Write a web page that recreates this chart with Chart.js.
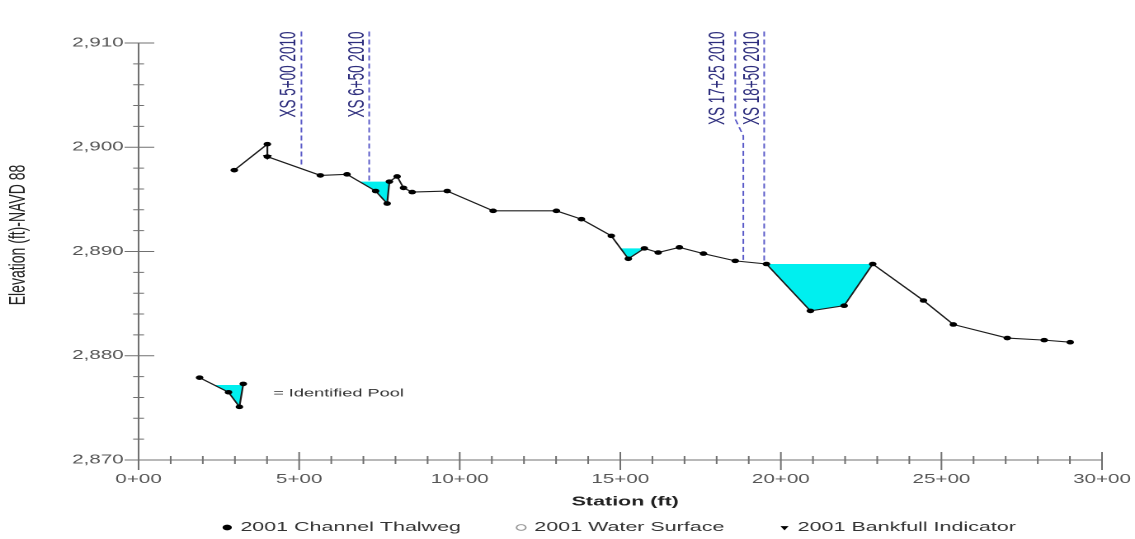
<!DOCTYPE html>
<html>
<head>
<meta charset="utf-8">
<style>
  html, body { margin: 0; padding: 0; overflow: hidden; background: #fff; }
  /* the plot is laid out narrow and widened to the page */
  #wrap { width: 688px; height: 544px; transform: scaleX(1.6497); transform-origin: 0 0; }
</style>
</head>
<body>
<div id="wrap"><canvas id="profile"></canvas></div>
<script src="https://cdn.jsdelivr.net/npm/chart.js@4.4.1/dist/chart.umd.min.js"></script>
<script>
// 2001 thalweg profile, station (ft) and elevation (ft NAVD 88)
const thalwegSta = [298, 401, 401, 566, 649, 738, 774, 781, 805, 825, 852, 961, 1104, 1301, 1379, 1472, 1525, 1575, 1618, 1684, 1759, 1858, 1955, 2092, 2197, 2286, 2444, 2537, 2705, 2820, 2901];
const thalwegElev = [2897.8, 2900.3, 2899.1, 2897.3, 2897.4, 2895.8, 2894.6, 2896.7, 2897.2, 2896.1, 2895.7, 2895.8, 2893.9, 2893.9, 2893.1, 2891.5, 2889.3, 2890.3, 2889.9, 2890.4, 2889.8, 2889.1, 2888.8, 2884.3, 2884.8, 2888.8, 2885.3, 2883.0, 2881.7, 2881.5, 2881.3];
const bankfullSta = [401];
const bankfullElev = [2899.1];

// identified pools: bed points under the water surface, and the surface level
const poolSta = [[688, 738, 774, 781], [1500, 1525, 1575], [1955, 2092, 2197, 2286]];
const poolElev = [[2896.7, 2895.8, 2894.6, 2896.7], [2890.3, 2889.3, 2890.3], [2888.8, 2884.3, 2884.8, 2888.8]];
const poolLevel = [2896.7, 2890.3, 2888.8];

// little sample pool used as a key
const keySta = [190, 280, 314, 326];
const keyElev = [2877.9, 2876.5, 2875.1, 2877.3];
const keyPoolSta = [234, 280, 314, 326];
const keyPoolElev = [2877.2, 2876.5, 2875.1, 2877.2];
const keyLevel = 2877.2;
const keyText = '= Identified Pool';
const keyTextAt = [419, 2876.4];

// 2010 cross sections
const xsLabels = ['XS 5+00 2010', 'XS 6+50 2010', 'XS 17+25 2010', 'XS 18+50 2010'];
const xsSta = [507, 718, 1883, 1948];
const xsLabelSta = [469, 681, 1805, 1912];
const xsBottom = [2898.2, 2896.7, 2889.1, 2888.8];
const xsTop = 2911.1;
// XS 17+25 runs up beside its label, then jogs over to the section
const xsLeaderSta = 1858;
const xsLeaderElev = [2902.7, 2901.1];

const FONT = '"Liberation Sans", Arial, sans-serif';
Chart.defaults.font.family = FONT;

const toPts = (xs, ys) => xs.map((v, i) => ({x: v, y: ys[i]}));

const datasets = [
  {
    label: '2001 Channel Thalweg',
    data: toPts(thalwegSta, thalwegElev),
    borderColor: '#1c1c1c', borderWidth: 1.1,
    pointStyle: 'circle', pointRadius: 2.3, pointBorderWidth: 0,
    pointBackgroundColor: '#000', pointBorderColor: '#000',
    fill: false
  },
  {
    label: '2001 Water Surface',
    data: [],
    showLine: false,
    pointStyle: 'circle', pointRadius: 2.3, pointBorderWidth: 1,
    pointBackgroundColor: '#fff', pointBorderColor: '#999'
  },
  {
    label: '2001 Bankfull Indicator',
    data: toPts(bankfullSta, bankfullElev),
    showLine: false,
    pointStyle: 'triangle', rotation: 180, pointRadius: 3.2, pointBorderWidth: 0,
    pointBackgroundColor: '#000', pointBorderColor: '#000'
  },
  {
    label: 'key',
    data: toPts(keySta, keyElev),
    borderColor: '#1c1c1c', borderWidth: 1.1,
    pointRadius: 2.3, pointBorderWidth: 0, pointBackgroundColor: '#000',
    fill: false
  }
];

poolSta.forEach((sta, i) => {
  datasets.push({
    label: 'pool',
    data: toPts(sta, poolElev[i]),
    borderColor: 'rgba(0,0,0,0)', borderWidth: 0, pointRadius: 0,
    backgroundColor: '#00efef',
    fill: {value: poolLevel[i]}
  });
});
datasets.push({
  label: 'pool',
  data: toPts(keyPoolSta, keyPoolElev),
  borderColor: 'rgba(0,0,0,0)', borderWidth: 0, pointRadius: 0,
  backgroundColor: '#00efef',
  fill: {value: keyLevel}
});

// axis lines with cross ticks, titles, cross-section marks and the pool key text
const profileDecor = {
  id: 'profileDecor',
  beforeDatasetsDraw(chart) {
    const {ctx, scales: {x, y}} = chart;
    const ax = x.getPixelForValue(x.min);
    const ay = y.getPixelForValue(y.min);
    ctx.save();
    ctx.strokeStyle = '#707070';
    ctx.lineWidth = 1;
    ctx.beginPath();
    ctx.moveTo(ax, y.getPixelForValue(y.max));
    ctx.lineTo(ax, ay);
    ctx.lineTo(x.getPixelForValue(x.max), ay);
    for (let v = y.min; v <= y.max; v += 2) {
      const py = y.getPixelForValue(v);
      const major = v % 10 === 0;
      ctx.moveTo(ax - (major ? 8.5 : 3.3), py);
      ctx.lineTo(ax + (major ? 9.5 : 3.3), py);
    }
    for (let v = x.min; v <= x.max; v += 100) {
      const px = x.getPixelForValue(v);
      const major = v % 500 === 0;
      ctx.moveTo(px, ay - (major ? 8 : 4));
      ctx.lineTo(px, ay + (major ? 10 : 4));
    }
    ctx.stroke();

    // axis titles
    ctx.fillStyle = '#222';
    ctx.textAlign = 'center';
    ctx.textBaseline = 'middle';
    ctx.font = 'bold 13px ' + FONT;
    ctx.fillText('Station (ft)', (x.left + x.right) / 2 + 3, 502);
    ctx.save();
    ctx.translate(11, 235);
    ctx.rotate(-Math.PI / 2);
    ctx.font = '14px ' + FONT;
    ctx.fillText('Elevation (ft)-NAVD 88', 0, 0);
    ctx.restore();

    // cross sections
    const topY = y.getPixelForValue(xsTop);
    ctx.strokeStyle = '#5a5ac8';
    ctx.setLineDash([5, 3]);
    ctx.beginPath();
    xsSta.forEach((s, i) => {
      const px = x.getPixelForValue(s);
      const by = y.getPixelForValue(xsBottom[i]);
      if (i === 2) {
        const lx = x.getPixelForValue(xsLeaderSta);
        ctx.moveTo(lx, topY);
        ctx.lineTo(lx, y.getPixelForValue(xsLeaderElev[0]));
        ctx.lineTo(px, y.getPixelForValue(xsLeaderElev[1]));
      } else {
        ctx.moveTo(px, topY);
      }
      ctx.lineTo(px, by);
    });
    ctx.stroke();
    ctx.setLineDash([]);

    ctx.fillStyle = '#2d2d7d';
    ctx.font = '13.5px ' + FONT;
    ctx.textAlign = 'right';
    xsLabels.forEach((t, i) => {
      ctx.save();
      ctx.translate(x.getPixelForValue(xsLabelSta[i]), topY);
      ctx.rotate(-Math.PI / 2);
      ctx.fillText(t, 0, 0);
      ctx.restore();
    });

    // pool key
    ctx.fillStyle = '#333';
    ctx.font = '11px ' + FONT;
    ctx.textAlign = 'left';
    ctx.fillText(keyText, x.getPixelForValue(keyTextAt[0]), y.getPixelForValue(keyTextAt[1]));
    ctx.restore();
  }
};

new Chart('profile', {
  type: 'line',
  data: {datasets: datasets},
  options: {
    responsive: true,
    maintainAspectRatio: false,
    devicePixelRatio: 2,
    animation: false,
    events: [],
    layout: {padding: {top: 43, right: 20, left: 0, bottom: 0}},
    scales: {
      x: {
        type: 'linear', min: 0, max: 3000,
        grid: {display: false, drawTicks: false, tickLength: 0}, border: {display: false},
        ticks: {
          stepSize: 500, padding: 12, autoSkip: false, maxRotation: 0,
          color: '#555', font: {size: 12.5},
          callback: v => (v / 100) + '+00'
        },
        afterFit: s => { s.height = 26; s.paddingLeft = 0; s.paddingRight = 0; }
      },
      y: {
        type: 'linear', min: 2870, max: 2910,
        grid: {display: false, drawTicks: false, tickLength: 0}, border: {display: false},
        ticks: {
          stepSize: 10, padding: 9, color: '#555', font: {size: 12.5},
          callback: v => v.toLocaleString('en-US')
        },
        afterFit: s => { s.width = 84; }
      }
    },
    plugins: {
      tooltip: {enabled: false},
      legend: {
        position: 'bottom',
        fullSize: false,
        labels: {
          usePointStyle: true, boxWidth: 3, boxHeight: 4, padding: 35,
          color: '#333', font: {size: 13},
          filter: item => item.datasetIndex < 3
        }
      }
    }
  },
  plugins: [profileDecor]
});
</script>
</body>
</html>
